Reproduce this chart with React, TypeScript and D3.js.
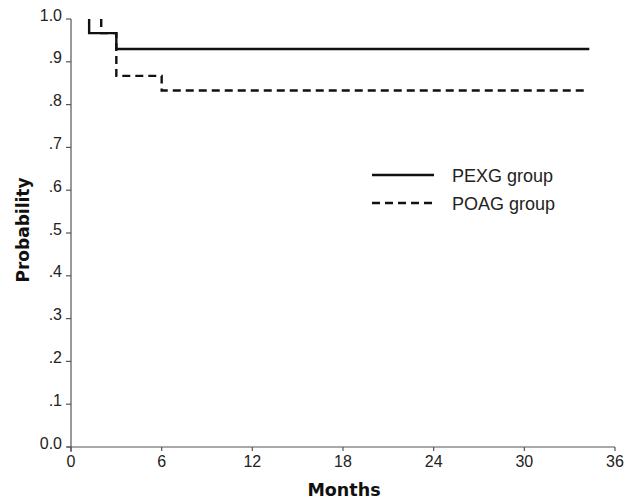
import React from "react";
import * as d3 from "d3";

const xTicks = [0, 6, 12, 18, 24, 30, 36];
const yTicks = [0, 0.1, 0.2, 0.3, 0.4, 0.5, 0.6, 0.7, 0.8, 0.9, 1.0];
const yTickLabels = ["0.0", ".1", ".2", ".3", ".4", ".5", ".6", ".7", ".8", ".9", "1.0"];

const pexgTime = [1.2, 1.2, 3.0, 34.3];
const pexgSurv = [1.0, 0.967, 0.93, 0.93];
const poagTime = [2.0, 2.0, 3.0, 6.0, 34.0];
const poagSurv = [1.0, 0.967, 0.867, 0.833, 0.833];

const seriesNames = ["PEXG group", "POAG group"];

export default function App() {
  const W = 626, H = 500;
  const x = d3.scaleLinear().domain([0, 36]).range([71, 615]);
  const y = d3.scaleLinear().domain([0, 1]).range([447, 19]);
  const line = d3
    .line<[number, number]>()
    .x((d) => x(d[0]))
    .y((d) => y(d[1]))
    .curve(d3.curveStepAfter);
  const pexg = pexgTime.map((t, i) => [t, pexgSurv[i]] as [number, number]);
  const poag = poagTime.map((t, i) => [t, poagSurv[i]] as [number, number]);
  const font = "'Liberation Sans', Arial, sans-serif";
  const boldFont = "'DejaVu Sans', Verdana, sans-serif";
  const axisColor = "#555";
  const textColor = "#222";
  return (
    <svg
      width={W}
      height={H}
      style={{ position: "absolute", left: 0, top: 0, background: "#fff" }}
      fontFamily={font}
    >
      {/* axes */}
      <line x1={x(0)} x2={x(0)} y1={y(1)} y2={y(0) + 5} stroke={axisColor} strokeWidth={1.2} />
      <line x1={x(0) - 4} x2={x(36)} y1={y(0)} y2={y(0)} stroke={axisColor} strokeWidth={1.2} />
      {yTicks.map((v, i) => (
        <g key={"y" + i}>
          <line x1={x(0) - 5} x2={x(0)} y1={y(v)} y2={y(v)} stroke={axisColor} strokeWidth={1.2} />
          <text x={x(0) - 9} y={y(v) - 4} dy="0.35em" textAnchor="end" fontSize={16} fill={textColor}>
            {yTickLabels[i]}
          </text>
        </g>
      ))}
      {xTicks.map((v, i) => (
        <g key={"x" + i}>
          <line x1={x(v)} x2={x(v)} y1={y(0)} y2={y(0)} stroke={axisColor} strokeWidth={1.2} />
          <line x1={x(v)} x2={x(v)} y1={y(0)} y2={y(0) + 4} stroke={axisColor} strokeWidth={1.2} />
          <text x={x(v)} y={y(0) + 20} textAnchor="middle" fontSize={16} fill={textColor}>
            {v}
          </text>
        </g>
      ))}
      <text
        transform={`translate(29,230) rotate(-90)`}
        textAnchor="middle"
        fontSize={17}
        fontWeight="bold"
        fontFamily={boldFont}
        fill="#111"
      >
        Probability
      </text>
      <text
        x={344}
        y={496}
        textAnchor="middle"
        fontSize={17.5}
        fontWeight="bold"
        fontFamily={boldFont}
        fill="#111"
      >
        Months
      </text>
      {/* curves */}
      <path d={line(pexg) || ""} fill="none" stroke="#111" strokeWidth={2.4} />
      <path d={line(poag) || ""} fill="none" stroke="#111" strokeWidth={2.4} strokeDasharray="8,5" />
      {/* legend */}
      <line x1={372} x2={434} y1={175} y2={175} stroke="#111" strokeWidth={2.4} />
      <text x={452} y={182} fontSize={18} fill={textColor}>{seriesNames[0]}</text>
      <line x1={372} x2={434} y1={203} y2={203} stroke="#111" strokeWidth={2.4} strokeDasharray="8,5" />
      <text x={452} y={210} fontSize={18} fill={textColor}>{seriesNames[1]}</text>
    </svg>
  );
}
